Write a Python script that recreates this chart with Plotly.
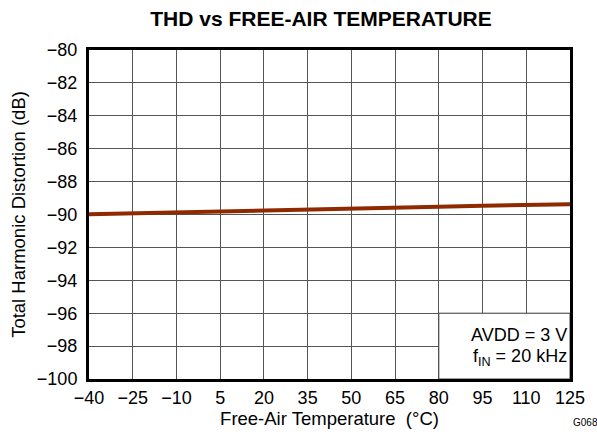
import plotly.graph_objects as go

temperature = [-40, -25, -10, 5, 20, 35, 50, 65, 80, 95, 110, 125]
thd_db = [-89.98, -89.93, -89.87, -89.82, -89.76, -89.70, -89.65, -89.59, -89.53, -89.47, -89.42, -89.37]

x_ticks = [-40, -25, -10, 5, 20, 35, 50, 65, 80, 95, 110, 125]
y_ticks = [-100, -98, -96, -94, -92, -90, -88, -86, -84, -82, -80]

def fmt(v):
    return ("\u2212" + str(abs(v))) if v < 0 else str(v)

font = "Liberation Sans, Arial, sans-serif"

fig = go.Figure()
fig.add_trace(go.Scatter(x=temperature, y=thd_db, mode="lines",
                         line=dict(color="#8f2a00", width=4), showlegend=False))

fig.add_shape(type="rect", xref="x", yref="y", x0=80, x1=125, y0=-100, y1=-96,
              fillcolor="white", line=dict(color="#444444", width=1), layer="above")
fig.add_annotation(xref="x", yref="y", x=124.6, y=-97.3, xanchor="right", yanchor="middle",
                   text="AVDD = 3 V", showarrow=False, font=dict(family=font, size=18, color="black"))
fig.add_annotation(xref="x", yref="y", x=124.6, y=-98.7, xanchor="right", yanchor="middle",
                   text="f<sub>IN</sub> = 20 kHz", showarrow=False, font=dict(family=font, size=18, color="black"))
fig.add_annotation(xref="paper", yref="paper", x=1.0, y=-44 / 329, xanchor="left", yanchor="middle",
                   xshift=1, text="G068", showarrow=False, font=dict(family=font, size=10, color="black"))

fig.update_layout(
    width=597, height=434,
    margin=dict(l=89, r=22, t=50, b=55),
    paper_bgcolor="white", plot_bgcolor="white",
    font=dict(family=font, size=18, color="black"),
    title=dict(text="<b>THD vs FREE-AIR TEMPERATURE</b>", x=321 / 597, xanchor="center",
               y=1 - 19 / 434, yanchor="middle", font=dict(family=font, size=21, color="black")),
    xaxis=dict(range=[-40, 125], tickvals=x_ticks, ticktext=[fmt(v) for v in x_ticks],
               showgrid=True, gridcolor="#555555", gridwidth=1, zeroline=False,
               showline=True, linecolor="black", linewidth=3, mirror=True,
               ticks="", tickfont=dict(size=18),
               title=dict(text="Free-Air Temperature  (\u00b0C)", font=dict(size=18.5), standoff=1)),
    yaxis=dict(range=[-100, -80], tickvals=y_ticks, ticktext=[fmt(v) for v in y_ticks],
               showgrid=True, gridcolor="#555555", gridwidth=1, zeroline=False,
               showline=True, linecolor="black", linewidth=3, mirror=True,
               ticks="", tickfont=dict(size=18), ticklabelstandoff=5,
               title=dict(text="Total Harmonic Distortion (dB)", font=dict(size=18.5), standoff=7)),
)

fig.write_html("out.html", config={"displayModeBar": False},
               post_script="document.body.style.margin='0';document.body.style.padding='0';")
